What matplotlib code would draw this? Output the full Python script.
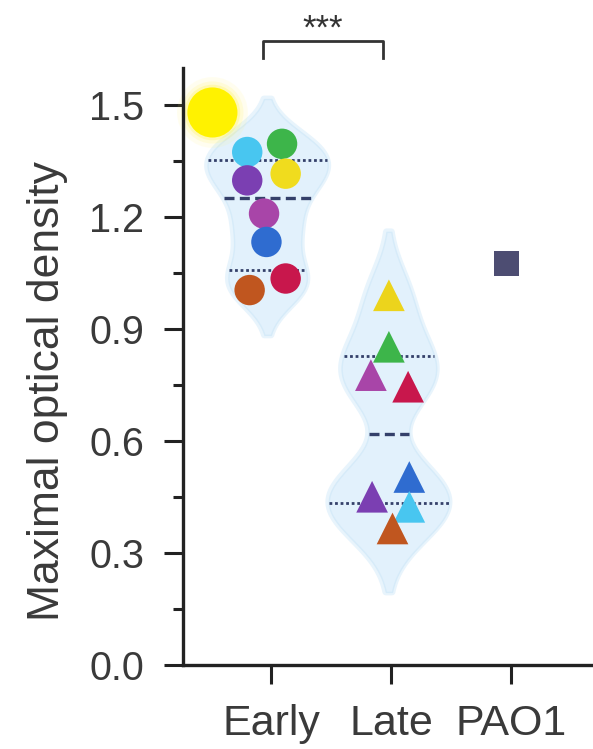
import numpy as np
import matplotlib
matplotlib.use("Agg")
import matplotlib.pyplot as plt

plt.rcParams['font.family'] = ['Liberation Sans', 'DejaVu Sans']

# ---- data -------------------------------------------------------------
categories = ["Early", "Late", "PAO1"]

early_values = [1.397, 1.375, 1.317, 1.299, 1.210, 1.134, 1.036, 1.005]
early_offsets = [0.09, -0.20, 0.12, -0.20, -0.06, -0.04, 0.12, -0.18]
early_colors = ["#3db54a", "#48c6f0", "#f0dc1e", "#7b3fb2",
                "#a845a8", "#2f6cd0", "#c8174c", "#c0561f"]

late_values = [0.991, 0.853, 0.777, 0.746, 0.504, 0.451, 0.424, 0.366]
late_offsets = [-0.02, -0.02, -0.17, 0.14, 0.15, -0.16, 0.15, 0.01]
late_colors = ["#ecd41c", "#3db54a", "#a845a8", "#c8174c",
               "#2f6cd0", "#7b3fb2", "#48c6f0", "#c0561f"]

pao1_value = [1.077]

# reference strain highlight marker
highlight_x = [0.51]
highlight_y = [1.481]

# quartile / median lines (Q1, median, Q3)
early_quart = [1.058, 1.252, 1.353]
late_quart = [0.435, 0.618, 0.828]

bandwidths = [0.06, 0.085]
yticks = [0.0, 0.3, 0.6, 0.9, 1.2, 1.5]
ylabel = "Maximal optical density"
sig_text = "***"

# ---- figure -----------------------------------------------------------
fig = plt.figure(figsize=(5.93, 7.49), dpi=100)
ax = fig.add_axes([0.3086, 0.1121, 0.6914, 0.7970])
ax.set_xlim(0.265, 3.68)
ax.set_ylim(0.0, 1.6)


def kde(values, bw, grid):
    v = np.asarray(values)[:, None]
    return np.exp(-0.5 * ((grid[None, :] - v) / bw) ** 2).sum(axis=0)


def violin(xc, values, bw, quart, half=0.5):
    lo, hi = min(values) - 2.0 * bw, max(values) + 2.0 * bw
    grid = np.linspace(lo, hi, 300)
    dens = kde(values, bw, grid)
    scale = half / dens.max()
    w = dens * scale
    # soft halo around the violin body
    ax.fill_betweenx(grid, xc - w, xc + w, facecolor="none",
                     edgecolor="#e8f4fc", lw=5, zorder=1)
    ax.fill_betweenx(grid, xc - w, xc + w, facecolor="#e2f1fc",
                     edgecolor="#d6ebf9", lw=1.0, zorder=1)
    for i, q in enumerate(quart):
        hw = kde(values, bw, np.array([q]))[0] * scale
        if i == 1:
            ax.plot([xc - hw, xc + hw], [q, q], color="#34406a", lw=2.4,
                    ls=(0, (3.0, 1.6)), zorder=2, solid_capstyle="butt")
        else:
            ax.plot([xc - hw, xc + hw], [q, q], color="#34406a", lw=2.0,
                    ls=(0, (1.0, 1.0)), zorder=2)


violin(0.97, early_values, bandwidths[0], early_quart)
violin(1.98, late_values, bandwidths[1], late_quart)

# individual isolates
for i, (v, dx, c) in enumerate(zip(early_values, early_offsets, early_colors)):
    ax.scatter(1 + dx, v, s=480, marker="o", color=c, edgecolors="none",
               zorder=3 + i)
for i, (v, dx, c) in enumerate(zip(late_values, late_offsets, late_colors)):
    ax.scatter(2 + dx, v, s=520, marker="^", color=c, edgecolors="none",
               zorder=3 + i)
ax.scatter(2.96, pao1_value[0], s=330, marker="s", color="#4d4d72",
           edgecolors="none", zorder=3)

# glowing highlight circle
for s, a in [(2600, 0.10), (2000, 0.18), (1600, 0.35)]:
    ax.scatter(highlight_x, highlight_y, s=s, color="#fff56a", alpha=a,
               edgecolors="none", zorder=2, clip_on=False)
ax.scatter(highlight_x, highlight_y, s=1300, color="#fff200",
           edgecolors="none", zorder=3, clip_on=False)

# axes styling
for side in ["top", "right"]:
    ax.spines[side].set_visible(False)
for side in ["left", "bottom"]:
    ax.spines[side].set_linewidth(2.4)
    ax.spines[side].set_color("#222222")

ax.set_xticks([1, 2, 3])
ax.set_xticklabels(categories)
ax.set_yticks(yticks)
ax.set_yticklabels([f"{t:.1f}" for t in yticks])
ax.set_yticks(np.arange(0.15, 1.6, 0.3), minor=True)
ax.tick_params(axis="y", which="major", length=14, width=2.2, pad=14,
               labelsize=28.5, colors="#222222", labelcolor="#3a3a3a")
ax.tick_params(axis="y", which="minor", length=7, width=2.2,
               colors="#222222")
ax.tick_params(axis="x", which="major", length=14, width=2.2, pad=14,
               labelsize=31, colors="#222222", labelcolor="#3a3a3a")
ax.set_ylabel(ylabel, fontsize=32, color="#3a3a3a")
ax.yaxis.set_label_coords(-0.28, 0.459)

# significance bracket
bx0, bx1, by, bdrop = 0.93, 1.93, 1.672, 1.626
ax.plot([bx0, bx0, bx1, bx1], [bdrop, by, by, bdrop], color="#333333",
        lw=2.0, clip_on=False, zorder=5)
ax.text((bx0 + bx1) / 2, 1.678, sig_text, ha="center", va="baseline",
        fontsize=25, color="#333333", clip_on=False)

fig.savefig("out.png", dpi=100)
